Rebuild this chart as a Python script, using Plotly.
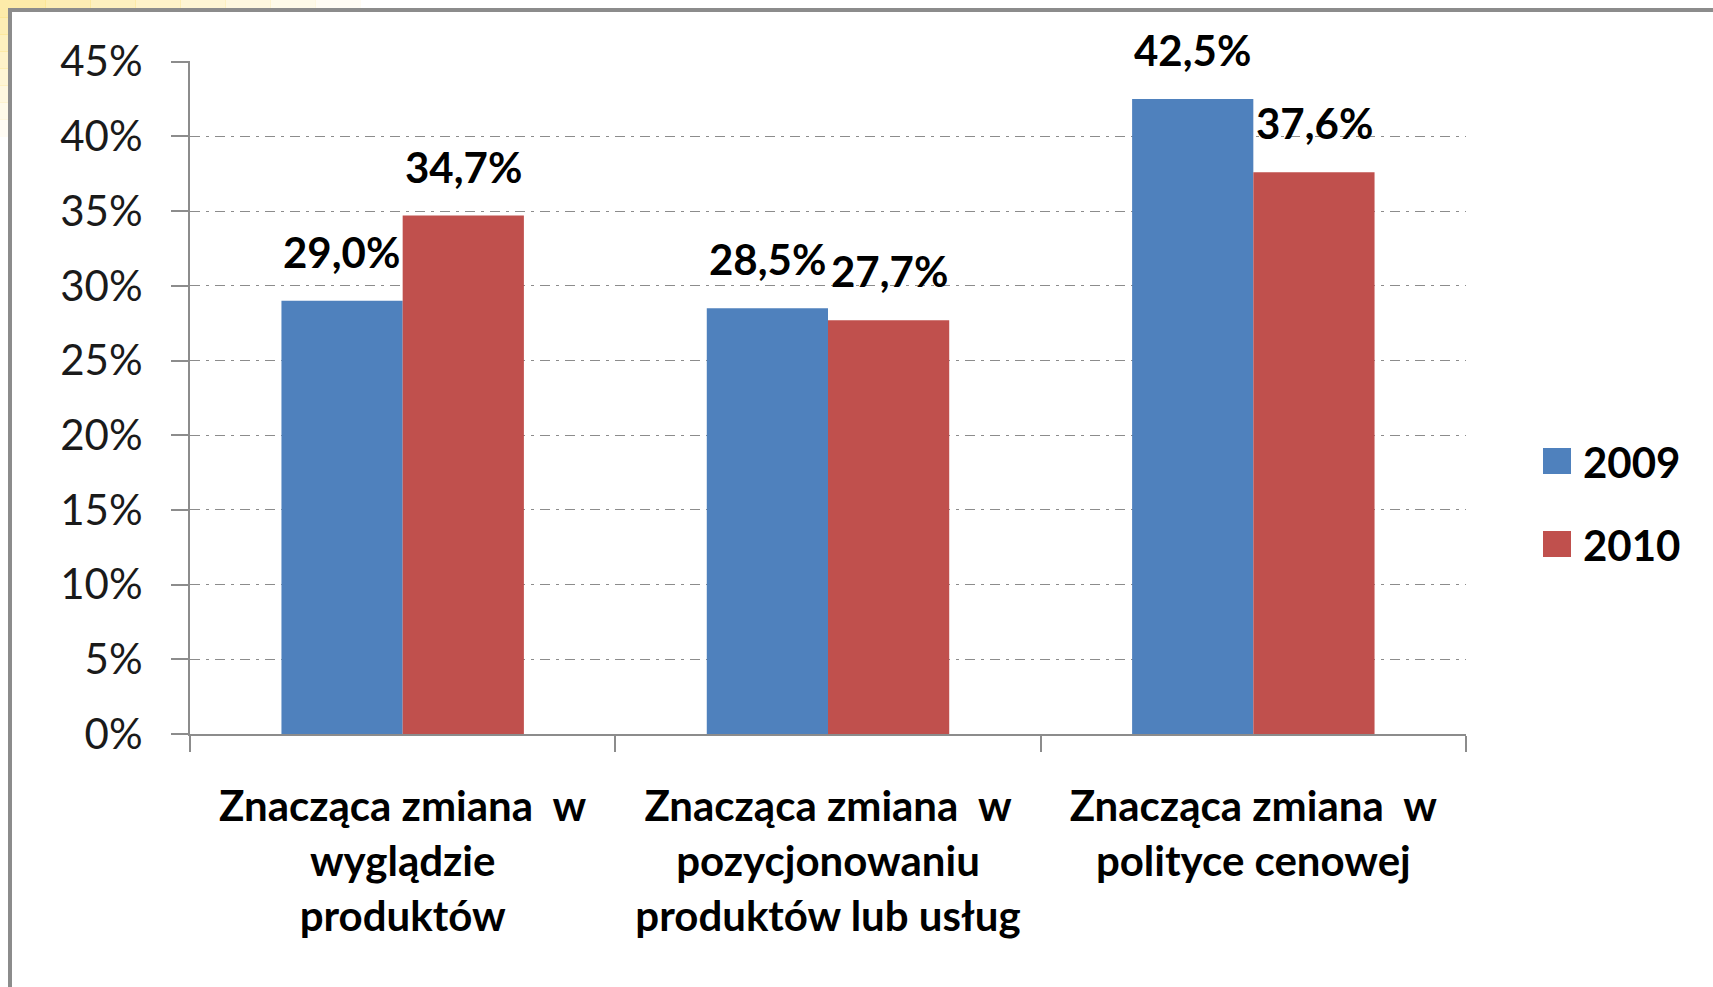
import plotly.graph_objects as go

categories = [
    "Znacząca zmiana  w<br>wyglądzie<br>produktów",
    "Znacząca zmiana  w<br>pozycjonowaniu<br>produktów lub usług",
    "Znacząca zmiana  w<br>polityce cenowej",
]
series_names = ["2009", "2010"]
values_2009 = [29.0, 28.5, 42.5]
values_2010 = [34.7, 27.7, 37.6]
colors = ["#4F81BD", "#C0504D"]
ytick_vals = [0, 5, 10, 15, 20, 25, 30, 35, 40, 45]
ytick_text = [f"{v}%" for v in ytick_vals]

W, H = 1713, 987
L, R, T, B = 190, 247, 61, 253
PW, PH = W - L - R, H - T - B
FONT = "Lato"
FS = 42


def px(xp):
    return (xp - L) / PW


def py(yp):
    return (H - B - yp) / PH


fig = go.Figure()
for name, vals, col in zip(series_names, [values_2009, values_2010], colors):
    fig.add_trace(go.Bar(
        x=categories, y=vals, name=name,
        marker=dict(color=col, line=dict(width=0)),
        showlegend=False,
    ))

shapes = []
annotations = []

# data labels
bar_shift = [-61, 61]
for i, vals in enumerate([values_2009, values_2010]):
    for c, v in zip(categories, vals):
        annotations.append(dict(
            x=c, y=v, xref="x", yref="y",
            text=f"{v:.1f}%".replace(".", ","),
            showarrow=False, xanchor="center", yanchor="bottom",
            xshift=bar_shift[i], yshift=22,
            font=dict(family=FONT, size=FS, color="#000000", weight="bold"),
        ))

# manual legend
leg_y = [461, 544]
for name, col, yc in zip(series_names, colors, leg_y):
    shapes.append(dict(
        type="rect", xref="paper", yref="paper",
        x0=px(1543), x1=px(1571), y0=py(yc - 13), y1=py(yc + 13),
        fillcolor=col, line=dict(width=0),
    ))
    annotations.append(dict(
        x=px(1581), y=py(yc + 1), xref="paper", yref="paper",
        text=name, showarrow=False, xanchor="left", yanchor="middle",
        font=dict(family=FONT, size=FS, color="#000000", weight="bold"),
    ))

# yellow decoration at top-left corner (outside the frame)
steps = 8
for k in range(steps):
    op = 0.75 * (1 - k / steps)
    x0 = k * 45
    shapes.append(dict(
        type="rect", xref="paper", yref="paper", layer="below",
        x0=px(x0), x1=px(x0 + 46), y0=py(8), y1=py(0),
        fillcolor="#FCE48C", opacity=op, line=dict(width=0),
    ))
    y0 = k * 17
    shapes.append(dict(
        type="rect", xref="paper", yref="paper", layer="below",
        x0=px(0), x1=px(8), y0=py(y0 + 18), y1=py(max(y0, 8)),
        fillcolor="#FCE48C", opacity=op, line=dict(width=0),
    ))

# frame lines
shapes.append(dict(type="line", xref="paper", yref="paper",
                   x0=px(8), x1=px(W + 5), y0=py(10), y1=py(10),
                   line=dict(color="#8C8C8C", width=4)))
shapes.append(dict(type="line", xref="paper", yref="paper",
                   x0=px(10), x1=px(10), y0=py(8), y1=py(H + 5),
                   line=dict(color="#8C8C8C", width=4)))

fig.update_layout(
    width=W, height=H,
    margin=dict(l=L, r=R, t=T, b=B, autoexpand=False),
    paper_bgcolor="#FFFFFF", plot_bgcolor="#FFFFFF",
    barmode="group", bargap=0.43, bargroupgap=0,
    showlegend=False,
    shapes=shapes, annotations=annotations,
    font=dict(family=FONT, color="#000000"),
)
fig.update_yaxes(
    range=[0, 45.05], tickvals=ytick_vals, ticktext=ytick_text,
    showgrid=True, gridcolor="#8C8C8C", gridwidth=1, griddash="10px,6px,3px,6px",
    zeroline=False,
    showline=True, linecolor="#8C8C8C", linewidth=2,
    ticks="outside", ticklen=17, tickcolor="#8C8C8C", tickwidth=2,
    tickfont=dict(family=FONT, size=FS, color="#1A1A1A"),
    ticklabelstandoff=20,
)
fig.update_xaxes(
    showline=True, linecolor="#8C8C8C", linewidth=2,
    ticks="outside", tickson="boundaries", ticklen=16, tickcolor="#8C8C8C", tickwidth=2,
    tickfont=dict(family=FONT, size=FS, color="#000000", weight="bold"),
    ticklabelstandoff=35,
    tickangle=0,
)

fig.write_html(
    "out.html",
    config={"displayModeBar": False},
    post_script="document.body.style.margin='0';document.body.style.overflow='hidden';",
)
